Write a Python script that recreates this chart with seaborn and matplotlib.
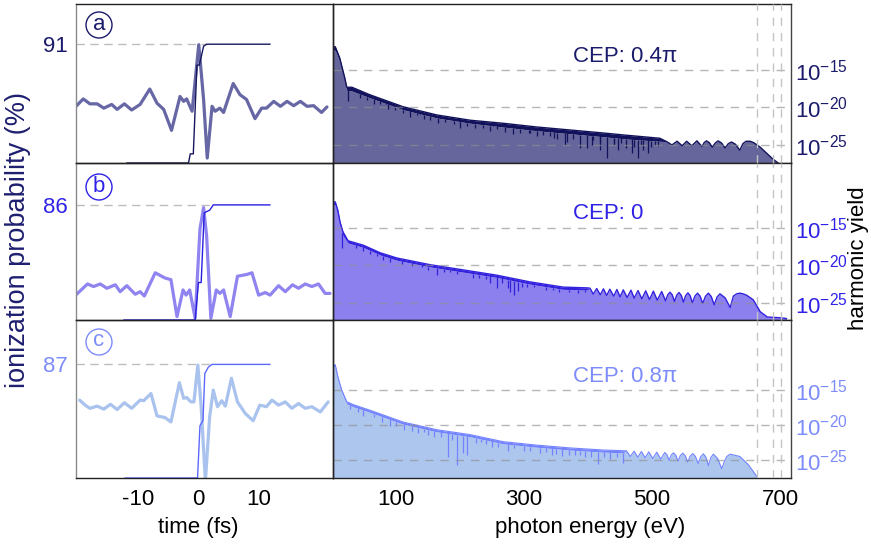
import numpy as np
import matplotlib
matplotlib.use("Agg")
import matplotlib.pyplot as plt
import seaborn as sns
from matplotlib.patches import Circle

# ---------------- data ----------------
# ionization step curves (time in fs, probability in %)
ion_t_a = [-11.8, -1.6, -1.3, -0.8, -0.2, 0.2, 0.9, 1.4, 11.9]
ion_p_a = [0, 0, 7, 7, 75, 75, 89.5, 91, 91]
ion_t_b = [-12.3, -0.5, 0.05, 0.5, 1.0, 1.4, 1.9, 2.5, 11.9]
ion_p_b = [0, 0, 28, 28, 80, 81, 82, 86, 86]
ion_t_c = [-12.1, -0.1, 0.3, 0.8, 1.1, 1.7, 2.3, 11.9]
ion_p_c = [0, 0, 40, 44, 80, 85, 87, 87]
ion_levels = [91, 86, 87]

# driving field (arb. units)
field_t_a = [-20.2, -19.0, -17.9, -16.7, -15.6, -14.3, -13.4, -12.2, -11.0, -9.6,
             -8.0, -6.8, -5.7, -4.4, -3.0, -2.4, -1.9, -1.0, 0.1, 0.9,
             1.5, 2.3, 2.8, 3.6, 4.2, 5.8, 6.9, 8.0, 9.4, 10.5,
             11.3, 12.5, 13.6, 14.7, 15.8, 16.9, 18.0, 19.1, 20.4, 21.3]
field_a = [0, 0.12, 0.04, 0.04, -0.03, 0.03, -0.05, 0.04, -0.06, 0.03,
           0.28, 0.05, -0.05, -0.39, 0.16, 0.08, 0.12, -0.08, 1.0, 0.11,
           -0.84, 0.0, -0.08, -0.03, -0.1, 0.37, 0.19, 0.11, -0.2, -0.03,
           -0.03, 0.08, 0.0, 0.08, 0.01, 0.08, 0.0, 0.01, -0.1, -0.01]
field_t_b = [-20.1, -18.3, -17.3, -16.2, -15.1, -13.7, -12.9, -11.8, -10.4, -9.6,
             -8.9, -7.1, -5.5, -4.5, -3.5, -2.5, -2.0, -1.4, -0.5, 0.3,
             0.9, 1.4, 2.1, 3.0, 3.6, 4.2, 5.3, 6.5, 8.0, 8.9,
             10.0, 11.1, 11.9, 13.3, 14.4, 15.6, 16.6, 17.7, 18.8, 19.9, 21.0, 21.8]
field_b = [-0.01, 0.11, 0.08, 0.11, 0.06, 0.1, 0.02, 0.09, -0.01, 0.02,
           -0.03, 0.24, 0.18, 0.16, -0.27, 0.04, -0.02, 0.04, -0.29, 0.75,
           1.0, 0.67, -0.29, 0.04, 0.0, 0.04, -0.27, 0.2, 0.22, 0.24,
           -0.02, 0.01, -0.02, 0.09, 0.02, 0.1, 0.06, 0.11, 0.08, 0.11, 0.0, 0.0]
field_t_c = [-19.6, -18.7, -17.9, -16.7, -15.6, -14.5, -13.4, -12.2, -11.0, -9.6,
             -9.0, -7.8, -6.8, -5.5, -4.5, -3.1, -2.4, -1.9, -1.2, -0.7,
             -0.05, 0.5, 1.2, 1.9, 2.5, 3.2, 3.9, 4.5, 5.5, 6.5,
             7.8, 9.1, 10.2, 11.3, 12.2, 13.3, 14.4, 15.5, 16.6, 17.7, 18.8, 20.2, 21.5]
field_c = [0.125, 0, -0.08, -0.025, -0.1, 0.02, -0.11, 0.06, -0.08, 0.125,
           0.11, 0.29, -0.27, -0.31, -0.42, 0.56, 0.17, 0.19, 0.08, 0.08,
           1.0, -0.04, -1.9, -0.29, 0.375, -0.04, 0.11, -0.025, 0.67, 0.08,
           -0.21, -0.39, 0, -0.04, 0.125, 0, 0.08, -0.08, 0.04, -0.08, -0.04, -0.17, 0.08]

# harmonic spectra: log10(yield); dense harmonic band (top/bottom), resolved part,
# deep dips (absolute) and short teeth (depth below band, decades)
band_E_a = [1, 5, 12, 20, 23, 31, 59, 111, 164, 216, 267, 320, 372, 424, 460, 512]
band_top_a = [-11.9, -11.9, -13.4, -16.1, -17.3, -17.3, -18.3, -19.9, -21.0, -21.7, -22.1, -22.6, -23.0, -23.4, -23.7, -24.1]
band_bot_a = [-12.2, -12.4, -13.8, -16.5, -17.7, -17.8, -18.7, -20.3, -21.4, -22.1, -22.6, -23.1, -23.5, -23.9, -24.2, -24.5]
res_E_a = [523, 531, 539, 547, 554, 562, 570, 578, 581.5, 585, 589.5, 594, 598.5, 603, 608.5, 614, 619,
           624, 630.5, 637, 642, 647, 653, 659, 664, 669, 679, 689, 697]
res_L_a = [-24.56, -25.0, -24.5, -25.1, -24.5, -25.1, -24.45, -25.2, -24.67, -24.45, -24.7, -25.3, -24.75,
           -24.45, -24.73, -25.4, -24.83, -24.6, -24.92, -25.7,
           -24.8, -24.5, -24.5, -24.7, -25.0, -25.3, -26.1, -26.9, -27.4]
dip_E_a = [25, 85, 137, 200, 252, 309, 346, 364, 367, 388, 398, 406, 419, 429, 440, 447, 460, 468, 478, 486, 494, 505]
dip_L_a = [-19.2, -19.4, -20.6, -21.4, -22.1, -23.4, -24.1, -25.0, -24.6, -25.4, -25.4, -25.0, -25.7, -26.7,
           -25.0, -25.7, -25.4, -26.1, -26.8, -25.7, -26.1, -25.0]
teeth_E_a = [44, 54, 65, 75, 88, 98, 111, 122, 132, 143, 153, 166, 177, 190, 200, 211, 223, 236, 247, 257,
             270, 283, 294, 307, 320, 330, 341, 351, 377, 408, 419, 440, 452, 472, 482, 498, 510]
teeth_D_a = [0.5, 0.4, 0.7, 0.3, 0.6, 0.5, 0.4, 0.8, 0.3, 0.6, 0.5, 0.7, 0.4, 0.5, 0.8, 0.4, 0.6, 0.5, 0.7, 0.3,
             0.6, 0.8, 0.5, 0.4, 0.7, 0.5, 0.6, 0.9, 0.7, 0.6, 0.9, 0.8, 0.6, 1.0, 0.7, 0.8, 0.6]

band_E_b = [1, 5, 9, 12.5, 17, 25, 49, 75, 101, 153, 205, 257, 309, 361, 398]
band_top_b = [-11.5, -11.5, -12.6, -14.2, -15.5, -16.7, -17.3, -18.3, -19.0, -19.9, -20.6, -21.3, -22.2, -22.9, -23.0]
band_bot_b = [-11.8, -11.9, -13.0, -14.6, -16.0, -17.0, -17.6, -18.6, -19.3, -20.2, -20.9, -21.6, -22.5, -23.2, -23.3]
res_E_b = [403, 408, 413.5, 419, 424, 429, 434, 440, 445, 450, 455, 461, 467, 472, 478, 484, 490, 496, 502, 508,
           515, 521, 524.5, 528, 531.5, 535, 538.5, 542, 545.5, 549, 552.5, 556, 559.5, 563, 567, 571, 575, 579,
           583.5, 588, 592.5, 597, 601.5, 606, 614, 622, 627, 632, 637, 642, 648,
           658, 669, 680, 700, 710]
res_L_b = [-23.04, -23.84, -23.09, -23.93, -23.13, -24.02, -23.18, -24.11, -23.22, -24.2, -23.27, -24.29, -23.31,
           -24.38, -23.36, -24.47, -23.4, -24.56, -23.44, -24.64, -23.49, -24.73, -23.92, -23.58, -23.94, -24.82,
           -23.97, -23.62, -24.0, -24.91, -24.03, -23.67, -24.06, -25.0, -24.09, -23.71, -24.11, -25.09,
           -24.11, -23.71, -24.17, -25.27, -24.23, -23.8, -24.33, -25.62, -24.1, -23.8, -23.71, -23.8, -24.0,
           -24.6, -26.2, -26.9, -27.0, -27.1]
dip_E_b = [16, 49, 80, 164, 220, 247, 257, 275, 278, 285, 291, 297, 325]
dip_L_b = [-17.7, -18.1, -19.3, -21.3, -21.7, -22.3, -23.0, -23.0, -23.5, -23.9, -23.4, -22.9, -22.7]
teeth_E_b = [38, 60, 70, 90, 110, 125, 140, 150, 175, 185, 195, 230, 240, 265, 305, 315, 335, 345, 355, 370, 385, 395]
teeth_D_b = [0.3, 0.4, 0.3, 0.5, 0.3, 0.4, 0.3, 0.5, 0.4, 0.3, 0.4, 0.5, 0.4, 0.6, 0.4, 0.3, 0.5, 0.3, 0.4, 0.3, 0.4, 0.3]

band_E_c = [1, 5, 9, 15, 23, 33, 59, 111, 164, 216, 267, 320, 372, 424, 455]
band_top_c = [-11.4, -11.4, -13.1, -15.0, -16.7, -17.1, -17.9, -19.6, -20.7, -21.4, -22.4, -22.9, -23.3, -23.6, -23.7]
band_bot_c = [-11.6, -11.7, -13.4, -15.3, -17.0, -17.4, -18.2, -19.9, -21.0, -21.7, -22.7, -23.2, -23.6, -23.9, -24.0]
res_E_c = [460, 466.1, 471.9, 477.6, 483.3, 489.1, 494.8, 501.0, 507.3, 513.5, 519.8, 523.2, 526.6, 530.0, 533.3,
           537.0, 540.6, 544.2, 547.9, 551.8, 555.7, 559.6, 563.5, 567.7, 571.9, 576.0, 580.2, 584.1, 588.0,
           591.9, 595.8, 602.3, 608.9, 613, 617, 622, 637, 650.5, 663.5, 666]
res_L_c = [-23.71, -24.52, -23.76, -24.62, -23.81, -24.71, -23.86, -24.81, -23.9, -24.9, -23.95, -24.27, -25.05,
           -24.31, -24.0, -24.35, -25.19, -24.38, -24.05, -24.43, -25.33, -24.46, -24.1, -24.52, -25.52, -24.54,
           -24.14, -24.63, -25.81, -24.66, -24.19, -24.81, -26.29, -25.2, -24.5, -24.19, -24.52,
           -25.71, -27.38, -27.8]
dip_E_c = [113, 125, 150, 181, 195, 205, 211, 240, 300, 350, 359, 370, 395, 416, 455]
dip_L_c = [-20.8, -20.9, -21.4, -24.6, -25.7, -24.0, -24.3, -22.8, -23.8, -24.1, -24.5, -24.3, -24.6, -25.6, -25.5]
teeth_E_c = [28, 40, 48, 66, 78, 90, 100, 135, 143, 160, 170, 188, 225, 232, 250, 260, 275, 285, 310, 325,
             335, 343, 380, 388, 405, 425, 435, 445]
teeth_D_c = [0.6, 0.5, 0.8, 0.5, 0.7, 0.9, 0.6, 0.7, 0.5, 0.8, 0.6, 0.9, 0.7, 0.5, 0.8, 0.6, 0.9, 0.5, 0.7, 0.8,
             0.6, 0.9, 0.7, 0.6, 0.8, 0.7, 0.9, 0.6]

cutoffs_eV = [664, 689, 702]
yield_ticks = [-25, -20, -15]
panel_letters = ["a", "b", "c"]
cep_labels = ["CEP: 0.4π", "CEP: 0", "CEP: 0.8π"]

# ---------------- style ----------------
sns.set_theme(style="white")
plt.rcParams["font.family"] = ["Liberation Sans", "DejaVu Sans"]
plt.rcParams["mathtext.default"] = "regular"
plt.rcParams["lines.solid_joinstyle"] = "round"
plt.rcParams["lines.solid_capstyle"] = "round"
FS = 16

text_cols = ["#1b1b6c", "#2f22e6", "#7d8cfb"]
ion_cols = ["#16165e", "#2a1ee0", "#5c68ff"]
field_cols = ["#6767a6", "#8f84f0", "#a9c3ee"]
spec_line_cols = ["#12125c", "#3322dd", "#7383ff"]
spec_fill_cols = ["#66669c", "#8c80ee", "#adc6ee"]
spec_lw = [1.0, 1.0, 0.8]

W, H = 871, 544
fig = plt.figure(figsize=(W / 100, H / 100), dpi=100)


def box(x0, y0, x1, y1):
    return [x0 / W, 1 - y1 / H, (x1 - x0) / W, (y1 - y0) / H]


rows = [(4, 163), (163, 320), (320, 478)]
ion_ylim = [(0, 121.8), (0, 117.3), (0, 121.0)]
field_ylim = [(-0.92, 1.66), (-0.31, 1.52), (-1.82, 2.125)]
spec_ylim = [(-27.4, -6.2), (-27.3, -6.3), (-27.6, -5.0)]
t_lim = (-20.2, 22.3)
E_lim = (1.5, 717)

ions = [(ion_t_a, ion_p_a), (ion_t_b, ion_p_b), (ion_t_c, ion_p_c)]
fields = [(field_t_a, field_a), (field_t_b, field_b), (field_t_c, field_c)]
specs = [
    (band_E_a, band_top_a, band_bot_a, res_E_a, res_L_a, dip_E_a, dip_L_a, teeth_E_a, teeth_D_a),
    (band_E_b, band_top_b, band_bot_b, res_E_b, res_L_b, dip_E_b, dip_L_b, teeth_E_b, teeth_D_b),
    (band_E_c, band_top_c, band_bot_c, res_E_c, res_L_c, dip_E_c, dip_L_c, teeth_E_c, teeth_D_c),
]
cep_pos = [0.667, 0.68, 0.64]
circle_y = [25, 187, 342]

for i, (y0, y1) in enumerate(rows):
    # ---------- left: field + ionization ----------
    axL = fig.add_axes(box(76, y0, 333, y1))
    axF = axL.twinx()
    ft, fv = fields[i]
    sns.lineplot(x=ft, y=fv, ax=axF, color=field_cols[i], lw=2.3)
    axF.set_ylim(*field_ylim[i])
    axF.set_yticks([])
    axF.set_ylabel("")
    for s in axF.spines.values():
        s.set_visible(False)

    it, ip = ions[i]
    sns.lineplot(x=it, y=ip, ax=axL, color=ion_cols[i], lw=1.0)
    lvl = ion_levels[i]
    it_arr, ip_arr = np.asarray(it), np.asarray(ip)
    t_reach = it_arr[np.argmax(ip_arr >= lvl)]
    axL.hlines(lvl, t_lim[0], t_reach, colors="#bdbdbd", linestyles=(0, (6, 4)), lw=1.0, zorder=1)
    axL.set_zorder(axF.get_zorder() + 1)
    axL.patch.set_visible(False)
    axL.set_xlim(*t_lim)
    axF.set_xlim(*t_lim)
    axL.set_ylim(*ion_ylim[i])
    axL.set_yticks([lvl])
    axL.set_yticklabels([str(lvl)])
    axL.tick_params(axis="y", length=0, pad=6, labelsize=FS, labelcolor=text_cols[i])
    if i == 2:
        axL.set_xticks([-10, 0, 10])
        axL.set_xticklabels(["-10", "0", "10"])
        axL.tick_params(axis="x", length=0, pad=8, labelsize=FS, labelcolor="black")
    else:
        axL.set_xticks([])
    axL.set_xlabel("")
    axL.set_ylabel("")
    for k, s in axL.spines.items():
        s.set_color("#222222")
        s.set_linewidth(1.0)
    axL.spines["left"].set_color("#8a8a8a")

    # ---------- right: harmonic spectrum ----------
    axR = fig.add_axes(box(333, y0, 791, y1))
    bE, bT, bB, rE, rL, dE, dL, tE, tD = specs[i]
    E = np.concatenate([bE, rE])
    up = np.concatenate([bT, rL])
    lo = np.concatenate([bB, rL])
    ybot = spec_ylim[i][0]
    axR.fill_between(E, ybot, lo, color=spec_fill_cols[i], lw=0, zorder=1)
    axR.fill_between(E, lo, up, color=spec_line_cols[i], lw=0, zorder=2)
    sns.lineplot(x=E, y=up, ax=axR, color=spec_line_cols[i], lw=spec_lw[i], zorder=2)
    axR.vlines(dE, dL, np.interp(dE, E, lo), colors=spec_line_cols[i], lw=0.9, zorder=2)
    t_lo = np.interp(tE, E, lo)
    axR.vlines(tE, t_lo - np.asarray(tD), t_lo, colors=spec_line_cols[i], lw=0.9, zorder=2)

    for v in yield_ticks:
        axR.axhline(v, color="#8f8f8f", alpha=0.65, lw=1.0, ls=(0, (6, 5)), zorder=3)
    for c in cutoffs_eV:
        axR.axvline(c, color="#c4c4c4", lw=1.0, ls=(0, (6, 5)), zorder=3)

    axR.set_xlim(*E_lim)
    axR.set_ylim(*spec_ylim[i])
    axR.yaxis.tick_right()
    axR.set_yticks(yield_ticks)
    axR.set_yticklabels([rf"$10^{{{v}}}$" for v in yield_ticks])
    axR.tick_params(axis="y", length=0, pad=3, labelsize=FS, labelcolor=text_cols[i])
    if i == 2:
        axR.set_xticks([100, 300, 500, 700])
        axR.set_xticklabels(["100", "300", "500", "700"])
        axR.tick_params(axis="x", length=0, pad=8, labelsize=FS, labelcolor="black")
    else:
        axR.set_xticks([])
    axR.set_xlabel("")
    axR.set_ylabel("")
    for k, s in axR.spines.items():
        s.set_color("#222222")
        s.set_linewidth(1.0)
    axR.spines["right"].set_color("#444444")

    axR.text(0.524, cep_pos[i], cep_labels[i], transform=axR.transAxes, ha="left", va="center",
             fontsize=FS, color=text_cols[i])

    # circled panel letter
    cy = (H - circle_y[i]) / 100
    fig.add_artist(Circle((0.99, cy), 0.13, transform=fig.dpi_scale_trans, fill=False,
                          ec=text_cols[i], lw=1.0))
    fig.text(0.99, cy + 0.01, panel_letters[i], transform=fig.dpi_scale_trans, ha="center",
             va="center", fontsize=FS, color=text_cols[i])

fig.text(198 / W, 1 - 527 / H, "time (fs)", ha="center", va="center", fontsize=FS, color="black")
fig.text(590 / W, 1 - 527 / H, "photon energy (eV)", ha="center", va="center", fontsize=FS, color="black")
fig.text(858 / W, 1 - 258 / H, "harmonic yield", ha="center", va="center", rotation=90,
         fontsize=FS, color="black")
fig.text(18 / W, 1 - 240 / H, "ionization probability (%)", ha="center", va="center", rotation=90,
         fontsize=19.5, color="#1f1f70")

fig.savefig("out.png", dpi=100)
